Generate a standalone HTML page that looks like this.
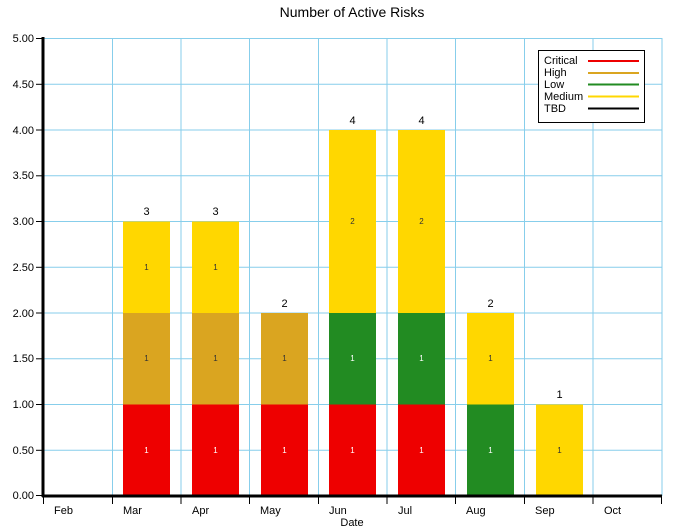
<!DOCTYPE html>
<html><head><meta charset="utf-8"><style>body{margin:0;background:#fff}svg{display:block;font-family:"Liberation Sans",Arial,sans-serif}</style></head><body>
<svg width="674" height="529" viewBox="0 0 674 529">
<text x="352" y="17" font-size="14" text-anchor="middle">Number of Active Risks</text>
<g stroke="#87CEEB" stroke-width="1">
<line x1="43" y1="38.5" x2="662" y2="38.5"/><line x1="43" y1="84.3" x2="662" y2="84.3"/><line x1="43" y1="130" x2="662" y2="130"/><line x1="43" y1="175.8" x2="662" y2="175.8"/><line x1="43" y1="221.5" x2="662" y2="221.5"/><line x1="43" y1="267.3" x2="662" y2="267.3"/><line x1="43" y1="313" x2="662" y2="313"/><line x1="43" y1="358.8" x2="662" y2="358.8"/><line x1="43" y1="404.5" x2="662" y2="404.5"/><line x1="43" y1="450.3" x2="662" y2="450.3"/>
<line x1="112.5" y1="38" x2="112.5" y2="496"/><line x1="181" y1="38" x2="181" y2="496"/><line x1="249.5" y1="38" x2="249.5" y2="496"/><line x1="318.5" y1="38" x2="318.5" y2="496"/><line x1="387" y1="38" x2="387" y2="496"/><line x1="455.5" y1="38" x2="455.5" y2="496"/><line x1="524.5" y1="38" x2="524.5" y2="496"/><line x1="593" y1="38" x2="593" y2="496"/><line x1="662" y1="38" x2="662" y2="496"/>
</g>
<!-- bars: unit 91.5, zero 496 -->
<g>
<rect x="123" y="404.5" width="47" height="91.5" fill="#EE0000"/><rect x="123" y="313" width="47" height="91.5" fill="#DAA520"/><rect x="123" y="221.5" width="47" height="91.5" fill="#FFD700"/>
<rect x="192" y="404.5" width="47" height="91.5" fill="#EE0000"/><rect x="192" y="313" width="47" height="91.5" fill="#DAA520"/><rect x="192" y="221.5" width="47" height="91.5" fill="#FFD700"/>
<rect x="261" y="404.5" width="47" height="91.5" fill="#EE0000"/><rect x="261" y="313" width="47" height="91.5" fill="#DAA520"/>
<rect x="329" y="404.5" width="47" height="91.5" fill="#EE0000"/><rect x="329" y="313" width="47" height="91.5" fill="#228B22"/><rect x="329" y="130" width="47" height="183" fill="#FFD700"/>
<rect x="398" y="404.5" width="47" height="91.5" fill="#EE0000"/><rect x="398" y="313" width="47" height="91.5" fill="#228B22"/><rect x="398" y="130" width="47" height="183" fill="#FFD700"/>
<rect x="467" y="404.5" width="47" height="91.5" fill="#228B22"/><rect x="467" y="313" width="47" height="91.5" fill="#FFD700"/>
<rect x="536" y="404.5" width="47" height="91.5" fill="#FFD700"/>
</g>
<g font-size="8" text-anchor="middle">
<g fill="#fff"><text x="146.5" y="453">1</text><text x="215.5" y="453">1</text><text x="284.5" y="453">1</text><text x="352.5" y="453">1</text><text x="421.5" y="453">1</text><text x="490.5" y="453">1</text><text x="352.5" y="361">1</text><text x="421.5" y="361">1</text></g>
<g fill="#333"><text x="146.5" y="361">1</text><text x="215.5" y="361">1</text><text x="284.5" y="361">1</text><text x="146.5" y="270">1</text><text x="215.5" y="270">1</text><text x="352.5" y="224">2</text><text x="421.5" y="224">2</text><text x="490.5" y="361">1</text><text x="559.5" y="453">1</text></g>
</g>
<g font-size="11" text-anchor="middle">
<text x="146.5" y="215">3</text><text x="215.5" y="215">3</text><text x="284.5" y="307">2</text><text x="352.5" y="124">4</text><text x="421.5" y="124">4</text><text x="490.5" y="307">2</text><text x="559.5" y="398">1</text>
</g>
<g stroke="#000" stroke-width="3"><line x1="43" y1="37" x2="43" y2="497"/><line x1="42" y1="496" x2="662" y2="496"/></g>
<g stroke="#000" stroke-width="1">
<line x1="36" y1="38.5" x2="43" y2="38.5"/><line x1="36" y1="84.3" x2="43" y2="84.3"/><line x1="36" y1="130" x2="43" y2="130"/><line x1="36" y1="175.8" x2="43" y2="175.8"/><line x1="36" y1="221.5" x2="43" y2="221.5"/><line x1="36" y1="267.3" x2="43" y2="267.3"/><line x1="36" y1="313" x2="43" y2="313"/><line x1="36" y1="358.8" x2="43" y2="358.8"/><line x1="36" y1="404.5" x2="43" y2="404.5"/><line x1="36" y1="450.3" x2="43" y2="450.3"/><line x1="36" y1="495.5" x2="43" y2="495.5"/>
<line x1="43.5" y1="496" x2="43.5" y2="504"/><line x1="112.5" y1="496" x2="112.5" y2="504"/><line x1="181" y1="496" x2="181" y2="504"/><line x1="249.5" y1="496" x2="249.5" y2="504"/><line x1="318.5" y1="496" x2="318.5" y2="504"/><line x1="387" y1="496" x2="387" y2="504"/><line x1="455.5" y1="496" x2="455.5" y2="504"/><line x1="524.5" y1="496" x2="524.5" y2="504"/><line x1="593" y1="496" x2="593" y2="504"/><line x1="661.5" y1="496" x2="661.5" y2="504"/>
</g>
<g font-size="11" text-anchor="end">
<text x="34" y="42">5.00</text><text x="34" y="88">4.50</text><text x="34" y="134">4.00</text><text x="34" y="179">3.50</text><text x="34" y="225">3.00</text><text x="34" y="271">2.50</text><text x="34" y="317">2.00</text><text x="34" y="362">1.50</text><text x="34" y="408">1.00</text><text x="34" y="454">0.50</text><text x="34" y="499">0.00</text>
</g>
<g font-size="11">
<text x="54" y="514">Feb</text><text x="123" y="514">Mar</text><text x="192" y="514">Apr</text><text x="260" y="514">May</text><text x="329" y="514">Jun</text><text x="398" y="514">Jul</text><text x="466" y="514">Aug</text><text x="535" y="514">Sep</text><text x="604" y="514">Oct</text>
</g>
<text x="352" y="526" font-size="11" text-anchor="middle">Date</text>
<rect x="538.5" y="50.5" width="106" height="72" fill="#fff" stroke="#000"/>
<g font-size="11"><text x="544" y="64">Critical</text><text x="544" y="76">High</text><text x="544" y="88">Low</text><text x="544" y="100">Medium</text><text x="544" y="112">TBD</text></g>
<g stroke-width="2"><line x1="588" y1="61" x2="639" y2="61" stroke="#EE0000"/><line x1="588" y1="73" x2="639" y2="73" stroke="#DAA520"/><line x1="588" y1="84.5" x2="639" y2="84.5" stroke="#228B22"/><line x1="588" y1="96.5" x2="639" y2="96.5" stroke="#FFD700"/><line x1="588" y1="108.5" x2="639" y2="108.5" stroke="#000"/></g>
</svg>
</body></html>
